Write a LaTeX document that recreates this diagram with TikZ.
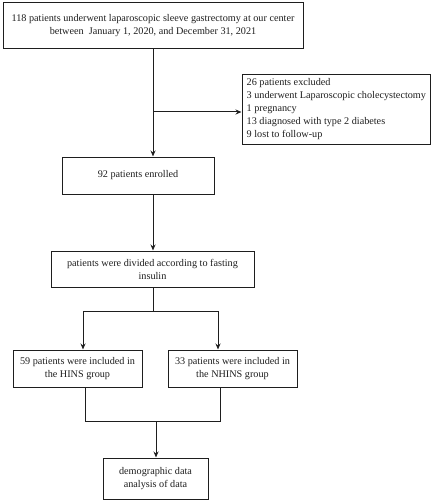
\documentclass[tikz,border=0pt]{standalone}
\usepackage{fontspec}
\setmainfont{Liberation Serif}
\usetikzlibrary{arrows.meta,calc}
\definecolor{ink}{RGB}{30,30,30}
\begin{document}
\begin{tikzpicture}[x=1pt,y=-1pt,
  box/.style={draw=ink,line width=1pt,rectangle,inner sep=0pt,align=center,text=ink,
    font=\fontsize{10.2}{13}\selectfont},
  lbl/.style={inner sep=0pt,align=left,text=ink,font=\fontsize{10.2}{13}\selectfont},
  conn/.style={draw=ink,line width=1pt},
  arr/.style={conn,-{Stealth[length=6pt,width=5pt]}}]
\useasboundingbox (0,0) rectangle (434,500);
\node[box,minimum width=300pt,minimum height=46pt] (top) at (153,26)
  {118 patients underwent laparoscopic sleeve gastrectomy at our center\\between\ \ January 1, 2020, and December 31, 2021};
\node[box,minimum width=188pt,minimum height=69pt] (excl) at (336,109.5) {};
\node[lbl,anchor=west] (excltext) at ($(excl.west)+(5,0)$)
  {26 patients excluded\\3 underwent Laparoscopic cholecystectomy\\1 pregnancy\\13 diagnosed with type 2 diabetes\\9 lost to follow-up};
\node[box,minimum width=152pt,minimum height=37pt] (enr) at (138,175.5) {92 patients enrolled};
\node[box,minimum width=203pt,minimum height=36pt] (div) at (152.5,269)
  {patients were divided according to fasting\\insulin};
\node[box,minimum width=129pt,minimum height=37pt] (hins) at (77.5,368.5)
  {59 patients were included in\\the HINS group};
\node[box,minimum width=129pt,minimum height=37pt] (nhins) at (232.5,368.5)
  {33 patients were included in\\the NHINS group};
\node[box,minimum width=105pt,minimum height=41pt] (fin) at (155.5,478.5)
  {demographic data\\analysis of data};
% main spine
\coordinate (b) at (153,112);
\draw[arr] (top.south) -- (top.south |- enr.north);
\draw[arr] (b) -- (b -| excl.west);
\draw[arr] (top.south |- enr.south) -- (top.south |- div.north);
% split
\coordinate (s) at (153,311);
\coordinate (sl) at (83,311);
\coordinate (sr) at (218,311);
\draw[conn] (s |- div.south) -- (s);
\draw[arr] (s) -- (sl) -- (sl |- hins.north);
\draw[arr] (s) -- (sr) -- (sr |- nhins.north);
% join
\coordinate (jl) at (85,421);
\coordinate (jr) at (220,421);
\coordinate (jm) at (156,421);
\draw[conn] (jl |- hins.south) -- (jl) -- (jr) -- (jr |- nhins.south);
\draw[arr] (jm) -- (jm |- fin.north);
\end{tikzpicture}
\end{document}
